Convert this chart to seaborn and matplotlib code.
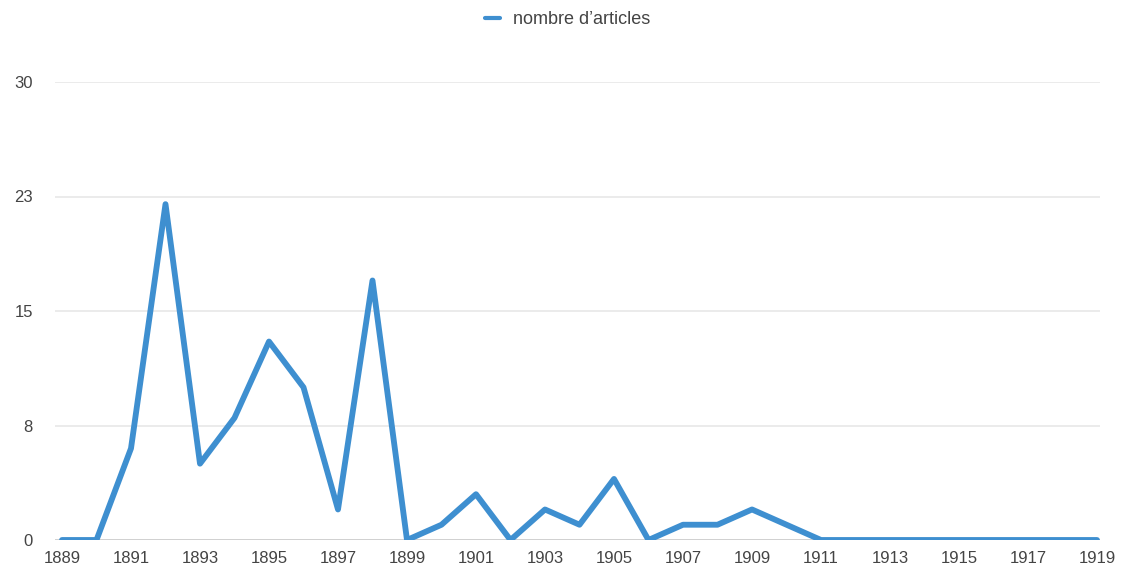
import matplotlib
matplotlib.use("Agg")
import matplotlib.pyplot as plt
import seaborn as sns
import pandas as pd

years = list(range(1889, 1920))
articles = [0, 0, 6, 22, 5, 8, 13, 10, 2, 17,
            0, 1, 3, 0, 2, 1, 4, 0, 1, 1,
            2, 1, 0, 0, 0, 0, 0, 0, 0, 0, 0]
y_ticks = [0, 7.5, 15, 22.5, 30]
y_labels = ["0", "8", "15", "23", "30"]
x_ticks = list(range(1889, 1920, 2))
series_name = "nombre d\u2019articles"

df = pd.DataFrame({"year": years, "value": articles})

sns.set_theme(style="white")
plt.rcParams["font.family"] = ["Liberation Sans", "DejaVu Sans"]

fig = plt.figure(figsize=(11.24, 5.70), dpi=100)
ax = fig.add_axes([55 / 1124, 1 - 540 / 570, (1100 - 55) / 1124, (540 - 82) / 570])

for t in y_ticks[1:]:
    ax.axhline(t, color="#e8e8e8", lw=1.2, zorder=0)
ax.axhline(0, color="#c8c8c8", lw=1.2, zorder=1)

sns.lineplot(data=df, x="year", y="value", ax=ax, color="#3e8fd0", lw=4.2,
             label=series_name, legend=False, zorder=3,
             solid_joinstyle="round", solid_capstyle="round")

ax.set_xlim(1889 - 7 / 34.5, 1919 + 3 / 34.5)
ax.set_ylim(0, 30)
ax.set_yticks(y_ticks)
ax.set_yticklabels(y_labels)
ax.set_xticks(x_ticks)
ax.set_xticklabels([str(x) for x in x_ticks])
ax.tick_params(axis="both", length=0, labelsize=12, colors="#444444")
ax.tick_params(axis="y", pad=16)
ax.tick_params(axis="x", pad=8)
for s in ax.spines.values():
    s.set_visible(False)
ax.set_xlabel("")
ax.set_ylabel("")

handles, labels = ax.get_legend_handles_labels()
leg = fig.legend(handles, labels, loc="center", bbox_to_anchor=(0.505, 1 - 20 / 570),
                 frameon=False, fontsize=13, handlelength=0.8, handletextpad=0.7,
                 labelcolor="#444444")
for h in leg.get_lines():
    h.set_linewidth(3)

fig.savefig("out.png", dpi=100, facecolor="white")
